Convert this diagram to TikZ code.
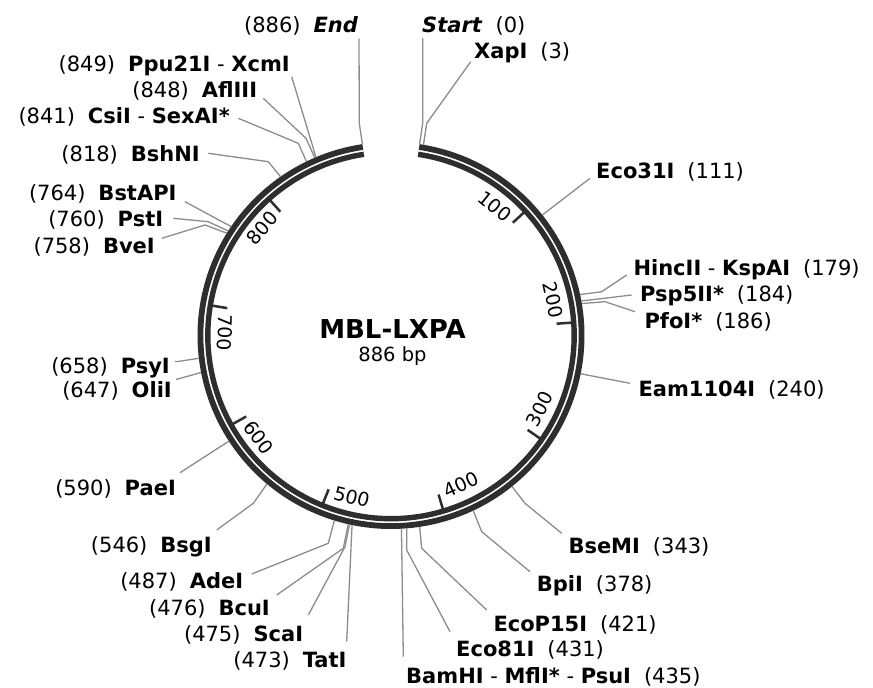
\documentclass[tikz,border=0pt]{standalone}
\usepackage{fontspec}
\setmainfont{DejaVu Sans}
\definecolor{ringc}{HTML}{2E2E2E}
\definecolor{leadc}{HTML}{8C8C8C}
\newcommand\labgap{\hspace{13pt}}
\begin{document}
\begin{tikzpicture}[x=1pt,y=-1pt,
  declare function={
    ang(\bp)=8.5+\bp*0.3871332;
    px(\bp,\rad)=391+\rad*sin(ang(\bp));
    py(\bp,\rad)=335.5-\rad*cos(ang(\bp));
  },
  leader/.style={draw=leadc, line width=1.3pt, line join=round},
  rlab/.style={anchor=base west, inner sep=0pt, font=\fontsize{21}{24}\selectfont},
  llab/.style={anchor=base east, inner sep=0pt, font=\fontsize{21}{24}\selectfont},
  ticklab/.style={inner sep=0pt, font=\fontsize{19}{21}\selectfont},
  tickmark/.style={draw=ringc, line width=2.5pt},
]
\fill[white] (0,0) rectangle (873,688);
\useasboundingbox (0,0) rectangle (873,688);

% backbone: two concentric arcs with a thin white gap
\draw[ringc, line width=5.8pt] plot[domain=8.5:351.5, samples=260] ({391+190.6*sin(\x)},{335.5-190.6*cos(\x)});
\draw[ringc, line width=5.4pt] plot[domain=8.5:351.5, samples=260] ({391+183.2*sin(\x)},{335.5-183.2*cos(\x)});

% scale ticks and their numbers
\foreach \t/\rot/\rr in {100/-39.2/166, 200/-77.9/166, 300/63.4/166, 400/24.6/165,
                         500/-14.1/166, 600/-52.8/167, 700/-91.5/166, 800/49.3/168}{
  \draw[tickmark] ({px(\t,166)},{py(\t,166)}) -- ({px(\t,181.5)},{py(\t,181.5)});
  \node[ticklab, rotate=\rot] (tick\t) at ({391+\rr*sin(ang(\t)-8.4)},{335.5-\rr*cos(ang(\t)-8.4)}) {\t};
}

% title
\node[anchor=base, font=\bfseries\fontsize{26}{29}\selectfont] (title) at (392.5,338.5) {MBL-LXPA};
\node[anchor=base, font=\fontsize{19.5}{22}\selectfont] (size) at (392.5,361.5) {886 bp};

% cut sites on the outer edge of the backbone
\foreach \nm/\b in {start/0, xap/3, eco31/111, hinc/179, psp/184, pfo/186, eam/240,
                    bsem/343, bpi/378, ecop/421, eco81/431, bam/435, tat/473, sca/475,
                    bcu/476, ade/487, bsg/546, pae/590, oli/647, psy/658, bve/758,
                    pst/760, bsta/764, bshn/818, csi/841, afl/848, ppu/849, end/886}{
  \coordinate (s-\nm) at ({px(\b,193.5)},{py(\b,193.5)});
}

% leader ends and elbows
\coordinate (k-start) at (422.7,123);   \coordinate (e-start) at (422.7,38);
\coordinate (k-xap) at (426.7,123.3);   \coordinate (e-xap) at (470.7,61.7);
\coordinate (e-eco31) at (590,178.3);
\coordinate (k-hinc) at (601.7,291.7);  \coordinate (e-hinc) at (626.7,275);
\coordinate (e-psp) at (631.7,295);
\coordinate (k-pfo) at (605,301.7);     \coordinate (e-pfo) at (635,311.7);
\coordinate (e-eam) at (630,383.3);
\coordinate (k-bsem) at (525,503.3);    \coordinate (e-bsem) at (561.7,533.3);
\coordinate (k-bpi) at (481.7,531.7);   \coordinate (e-bpi) at (530,571.7);
\coordinate (k-ecop) at (421.7,548.3);  \coordinate (e-ecop) at (486.7,610);
\coordinate (k-eco81) at (406.7,550);   \coordinate (e-eco81) at (450,631.7);
\coordinate (e-bam) at (403.3,656.7);
\coordinate (e-tat) at (346.7,641.7);
\coordinate (k-sca) at (345,546.7);     \coordinate (e-sca) at (308.3,615);
\coordinate (k-bcu) at (343.3,548.3);   \coordinate (e-bcu) at (276.7,595);
\coordinate (k-ade) at (328.3,543.3);   \coordinate (e-ade) at (251.7,574);
\coordinate (k-bsg) at (253.3,503.3);   \coordinate (e-bsg) at (216.7,530);
\coordinate (e-pae) at (180,472.7);
\coordinate (e-oli) at (176,379.5);
\coordinate (k-psy) at (178,361.5);     \coordinate (e-psy) at (175,361.5);
\coordinate (k-bve) at (205,225);       \coordinate (e-bve) at (161.7,238.3);
\coordinate (k-pst) at (208.3,221.7);   \coordinate (e-pst) at (173.3,218.3);
\coordinate (e-bsta) at (185,201.7);
\coordinate (k-bshn) at (268.3,161.7);  \coordinate (e-bshn) at (208.3,153.3);
\coordinate (k-csi) at (298.3,143.3);   \coordinate (e-csi) at (238.3,118.3);
\coordinate (k-afl) at (306,138.3);     \coordinate (e-afl) at (263.3,98.3);
\coordinate (e-ppu) at (291.7,76.7);
\coordinate (k-end) at (359.3,123.3);   \coordinate (e-end) at (359,38.3);

% leaders with an elbow
\foreach \nm in {start, xap, hinc, pfo, bsem, bpi, ecop, eco81, sca, bcu, ade, bsg,
                 psy, bve, pst, bshn, csi, afl, end}{
  \draw[leader] (s-\nm) -- (k-\nm) -- (e-\nm);
}
% straight leaders
\foreach \nm in {eco31, psp, eam, bam, tat, pae, oli, bsta, ppu}{
  \draw[leader] (s-\nm) -- (e-\nm);
}

% labels, right half
\node[rlab] (l-start) at (422,32.7) {\textbf{\textit{Start}}\labgap(0)};
\node[rlab] (l-xap) at (474,58.3) {\textbf{XapI}\labgap(3)};
\node[rlab] (l-eco31) at (596,178.3) {\textbf{Eco31I}\labgap(111)};
\node[rlab] (l-hinc) at (633.3,275) {\textbf{HincII} - \textbf{KspAI}\labgap(179)};
\node[rlab] (l-psp) at (640,301.7) {\textbf{Psp5II*}\labgap(184)};
\node[rlab] (l-pfo) at (644.3,328.3) {\textbf{PfoI*}\labgap(186)};
\node[rlab] (l-eam) at (638.3,396.7) {\textbf{Eam1104I}\labgap(240)};
\node[rlab] (l-bsem) at (568.3,553.3) {\textbf{BseMI}\labgap(343)};
\node[rlab] (l-bpi) at (536.7,591.7) {\textbf{BpiI}\labgap(378)};
\node[rlab] (l-ecop) at (493.3,631.7) {\textbf{EcoP15I}\labgap(421)};
\node[rlab] (l-eco81) at (456,656.7) {\textbf{Eco81I}\labgap(431)};
\node[rlab] (l-bam) at (406,683.3) {\textbf{BamHI} - \textbf{MflI*} - \textbf{PsuI}\labgap(435)};

% labels, left half
\node[llab] (l-end) at (358.3,32.7) {(886)\labgap\textbf{\textit{End}}};
\node[llab] (l-ppu) at (290,71.7) {(849)\labgap\textbf{Ppu21I} - \textbf{XcmI}};
\node[llab] (l-afl) at (257.3,97.3) {(848)\labgap\textbf{AflIII}};
\node[llab] (l-csi) at (230,123.3) {(841)\labgap\textbf{CsiI} - \textbf{SexAI*}};
\node[llab] (l-bshn) at (200,161.7) {(818)\labgap\textbf{BshNI}};
\node[llab] (l-bsta) at (176.7,200) {(764)\labgap\textbf{BstAPI}};
\node[llab] (l-pst) at (163.3,226) {(760)\labgap\textbf{PstI}};
\node[llab] (l-bve) at (155,253.3) {(758)\labgap\textbf{BveI}};
\node[llab] (l-psy) at (170,373) {(658)\labgap\textbf{PsyI}};
\node[llab] (l-oli) at (172,397) {(647)\labgap\textbf{OliI}};
\node[llab] (l-pae) at (176,495) {(590)\labgap\textbf{PaeI}};
\node[llab] (l-bsg) at (212,552) {(546)\labgap\textbf{BsgI}};
\node[llab] (l-ade) at (243.3,588.3) {(487)\labgap\textbf{AdeI}};
\node[llab] (l-bcu) at (270,615) {(476)\labgap\textbf{BcuI}};
\node[llab] (l-sca) at (303.3,641.7) {(475)\labgap\textbf{ScaI}};
\node[llab] (l-tat) at (346.7,667.3) {(473)\labgap\textbf{TatI}};
\end{tikzpicture}
\end{document}
